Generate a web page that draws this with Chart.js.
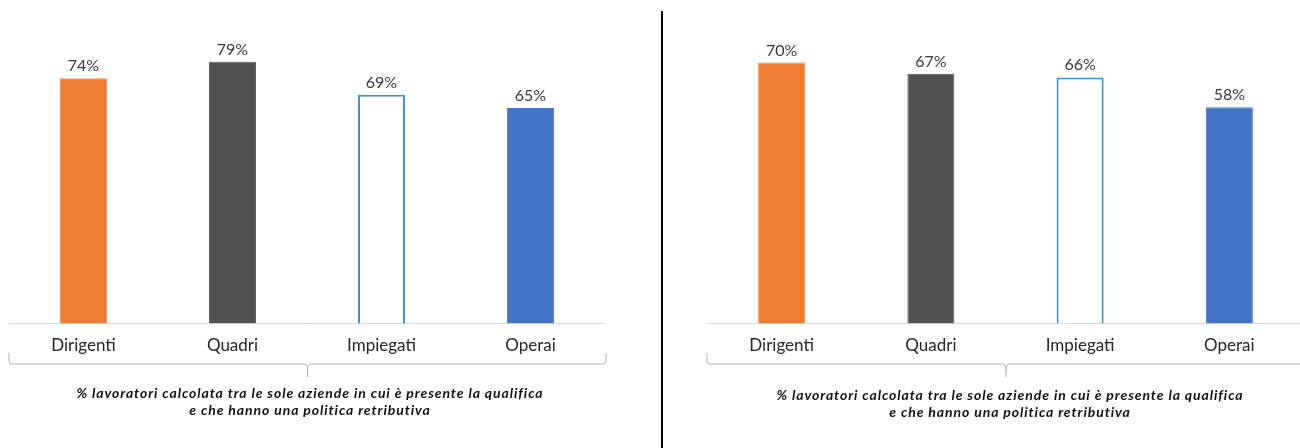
<!DOCTYPE html>
<html><head><meta charset="utf-8">
<script src="https://cdn.jsdelivr.net/npm/chart.js@4/dist/chart.umd.min.js"></script>
<style>
html,body{margin:0;padding:0;background:#fff;overflow:hidden;width:1300px;height:448px;}
#wrap{position:relative;width:1300px;height:448px;overflow:hidden;background:#fff;}
canvas{position:absolute;top:0;}
#sep{position:absolute;left:661px;top:11px;width:2px;height:437px;background:#000;}
.cap{position:absolute;width:620px;font-family:Lato,"Open Sans",sans-serif;font-weight:bold;font-style:italic;font-size:14px;letter-spacing:0.9px;text-align:center;color:#111;line-height:17px;}
</style></head>
<body>
<div id="wrap">
<canvas id="c1" width="660" height="448" style="left:0px"></canvas>
<canvas id="c2" width="645" height="448" style="left:662px"></canvas>
<div id="sep"></div>
<div class="cap" id="cap1" style="left:0px;top:384px"></div>
<div class="cap" id="cap2" style="left:700px;top:386px"></div>
</div>
<script>
const categories = ['Dirigenti', 'Quadri', 'Impiegati', 'Operai'];
const valuesLeft = [74, 79, 69, 65];
const valuesRight = [70, 67, 66, 58];
const captionLines = ['% lavoratori calcolata tra le sole aziende in cui è presente la qualifica', 'e che hanno una politica retributiva'];

const fillColors = ['#ED7D31', '#505050', '#FFFFFF', '#4472C4'];
const borderColors = ['#F08A45', '#5A5A5A', '#3D8FD6', '#4A78C8'];
const borderWidths = [1, 1, 2, 1];
const FONT = 'Lato, "Open Sans", sans-serif';

document.getElementById('cap1').innerHTML = captionLines.join('<br>');
document.getElementById('cap2').innerHTML = captionLines.join('<br>');

const valueLabels = {
  id: 'valueLabels',
  afterDatasetsDraw(chart) {
    const ctx = chart.ctx;
    const meta = chart.getDatasetMeta(0);
    const data = chart.data.datasets[0].data;
    ctx.save();
    ctx.font = '16px ' + FONT;
    ctx.fillStyle = '#3a3a3a';
    ctx.textAlign = 'center';
    ctx.textBaseline = 'alphabetic';
    meta.data.forEach((el, i) => {
      ctx.fillText(data[i] + '%', el.x, el.y - 7);
    });
    ctx.restore();
  }
};

const brace = {
  id: 'brace',
  afterDraw(chart) {
    const x = chart.scales.x;
    const l = x.left, r = x.right + 1, m = (l + r) / 2;
    const ctx = chart.ctx;
    const y0 = 353, y1 = 364, y2 = 377;
    ctx.save();
    ctx.strokeStyle = '#adadad';
    ctx.lineWidth = 1;
    ctx.beginPath();
    ctx.moveTo(l, y0);
    ctx.lineTo(l, y1 - 3);
    ctx.quadraticCurveTo(l, y1, l + 3, y1);
    ctx.lineTo(m - 4, y1);
    ctx.quadraticCurveTo(m, y1, m, y1 + 5);
    ctx.lineTo(m, y2);
    ctx.moveTo(m, y1 + 5);
    ctx.quadraticCurveTo(m, y1, m + 4, y1);
    ctx.lineTo(r - 3, y1);
    ctx.quadraticCurveTo(r, y1, r, y1 - 3);
    ctx.lineTo(r, y0);
    ctx.stroke();
    ctx.restore();
  }
};

function makeChart(id, values, yMax, padLeft, padRight) {
  return new Chart(document.getElementById(id), {
    type: 'bar',
    data: {
      labels: categories,
      datasets: [{
        data: values,
        backgroundColor: fillColors,
        borderColor: borderColors,
        borderWidth: borderWidths,
        categoryPercentage: 1,
        barPercentage: 0.315
      }]
    },
    options: {
      responsive: false,
      animation: false,
      layout: { padding: { left: padLeft, right: padRight, top: 10, bottom: 80 } },
      plugins: { legend: { display: false }, tooltip: { enabled: false } },
      scales: {
        x: {
          grid: { display: false, drawTicks: false },
          border: { display: true, color: '#d9d9d9', width: 1 },
          ticks: { font: { family: FONT, size: 17 }, color: '#262626', padding: 12 }
        },
        y: { display: false, min: 0, max: yMax }
      }
    },
    plugins: [valueLabels, brace]
  });
}

makeChart('c1', valuesLeft, 94.6, 9, 55);
makeChart('c2', valuesRight, 84.1, 45, 3);
</script>
</body></html>
